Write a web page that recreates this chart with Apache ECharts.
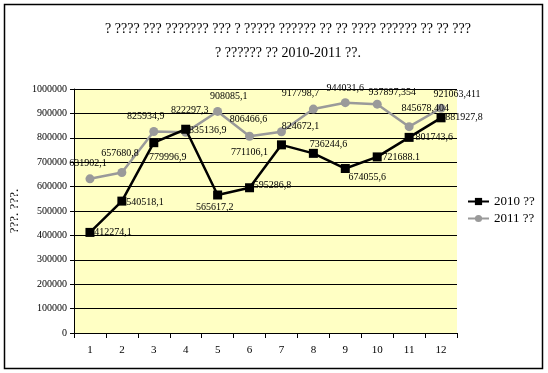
<!DOCTYPE html>
<html><head><meta charset="utf-8">
<script src="https://cdn.jsdelivr.net/npm/echarts@6/dist/echarts.min.js"></script>
<style>html,body{margin:0;padding:0;background:#fff}#c{width:548px;height:373px}</style>
</head><body><div id="c"></div>
<script>
const categories = ['1','2','3','4','5','6','7','8','9','10','11','12'];
const values2010 = [412274.1, 540518.1, 779996.9, 835136.9, 565617.2, 595286.8, 771106.1, 736244.6, 674055.6, 721688.1, 801743.6, 881927.8];
const values2011 = [631902.1, 657680.8, 825934.9, 822297.3, 908085.1, 806466.6, 824672.1, 917798.7, 944031.6, 937897.354, 845678.404, 921063.411];
const labels2010 = ['412274,1','540518,1','779996,9','835136,9','565617,2','595286,8','771106,1','736244,6','674055,6','721688.1','801743,6','881927,8'];
const labels2011 = ['631902,1','657680,8','825934,9','822297,3','908085,1','806466,6','824672,1','917798,7','944031,6','937897,354','845678,404','921063,411'];
const seriesNames = ['2010 ??', '2011 ??'];
const titleLines = ['? ???? ??? ??????? ??? ? ????? ?????? ?? ?? ???? ?????? ?? ?? ???', '? ?????? ?? 2010-2011 ??.'];
const yAxisName = '???. ???.';

// label placement (layout only)
const off2010 = [[23,0],[23,1],[14,15],[22,1],[-3,12],[23,-2],[-32,8],[15,-9],[22,9],[24,0],[25,0],[23,0]];
const off2011 = [[-2,-15],[-2,-19],[-8,-15],[4,-22],[11,-15],[-1,-17],[19,-5],[-13,-16],[0,-14],[15,-12],[16,-18],[16,-14]];

const FONT = '"Liberation Serif", "Times New Roman", serif';
function mk(vals, labs, offs){
  return vals.map((v,i)=>({value:v, label:{formatter:labs[i], offset:offs[i]}}));
}
const chart = echarts.init(document.getElementById('c'), null, {renderer:'canvas'});
chart.setOption({
  animation:false,
  backgroundColor:'#fff',
  textStyle:{fontFamily:FONT},
  graphic:[
    {type:'rect', shape:{x:4.5,y:4.5,width:538,height:364}, style:{fill:null, stroke:'#000', lineWidth:1.5}, silent:true, z:-1},
    {type:'text', x:288, y:29.5, style:{text:titleLines[0], font:'14px '+FONT, fill:'#000', align:'center', verticalAlign:'middle'}},
    {type:'text', x:288, y:53.5, style:{text:titleLines[1], font:'14px '+FONT, fill:'#000', align:'center', verticalAlign:'middle'}}
  ],
  grid:{left:74, right:91, top:89, bottom:40, show:true, backgroundColor:'#FFFFC4', borderWidth:0, containLabel:false, outerBoundsMode:'none'},
  legend:{
    orient:'vertical', left:467, top:195, padding:0, itemWidth:21, itemHeight:9, itemGap:4,
    textStyle:{fontFamily:FONT, fontSize:13, color:'#000'},
    data:[{name:seriesNames[0]},{name:seriesNames[1]}]
  },
  xAxis:{
    type:'category', data:categories, boundaryGap:true,
    axisLine:{lineStyle:{color:'#000', width:1}},
    axisTick:{show:true, length:5, lineStyle:{color:'#000'}},
    axisLabel:{color:'#000', fontFamily:FONT, fontSize:11, margin:12}
  },
  yAxis:{
    type:'value', min:0, max:1000000, interval:100000,
    name:yAxisName, nameLocation:'middle', nameGap:53, nameRotate:90,
    nameTextStyle:{fontFamily:FONT, fontSize:13, color:'#000'},
    axisLine:{show:true, lineStyle:{color:'#000'}},
    axisTick:{show:true, length:4, inside:false, lineStyle:{color:'#000'}},
    axisLabel:{color:'#000', fontFamily:FONT, fontSize:10, margin:7, formatter:(v)=>String(v)},
    splitLine:{lineStyle:{color:'#000', width:1}}
  },
  series:[
    {name:seriesNames[0], type:'line', data:mk(values2010, labels2010, off2010),
     symbol:'rect', symbolSize:9, lineStyle:{color:'#000', width:2.5}, itemStyle:{color:'#000'},
     label:{show:true, position:'inside', align:'center', verticalAlign:'middle', fontFamily:FONT, fontSize:10, color:'#000'}, z:3},
    {name:seriesNames[1], type:'line', data:mk(values2011, labels2011, off2011),
     symbol:'circle', symbolSize:9, lineStyle:{color:'#9a9a9a', width:2.5}, itemStyle:{color:'#9a9a9a'},
     label:{show:true, position:'inside', align:'center', verticalAlign:'middle', fontFamily:FONT, fontSize:10, color:'#000'}, z:2}
  ]
});
</script></body></html>
